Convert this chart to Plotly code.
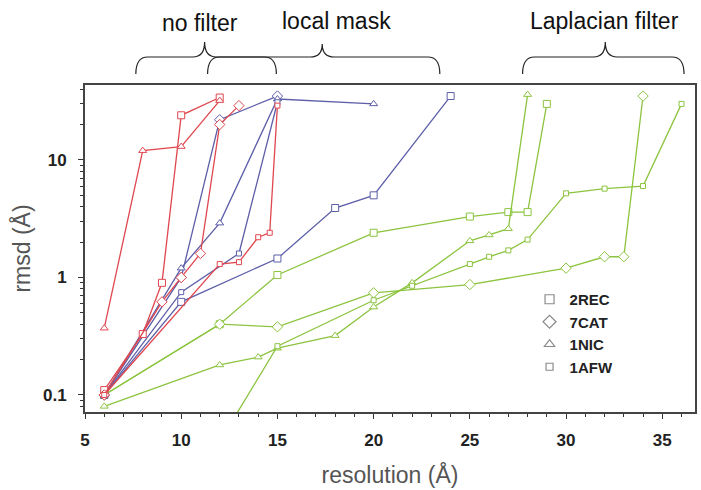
import plotly.graph_objects as go

# rmsd (Å) versus resolution (Å) for four test structures and three map treatments

# --- no filter (red) ---
nf_2rec_x = [6, 8, 9, 10, 12]
nf_2rec_y = [0.11, 0.33, 0.9, 24, 34]
nf_7cat_x = [6, 9, 10, 11, 12, 13]
nf_7cat_y = [0.1, 0.62, 1.0, 1.6, 20, 29]
nf_1nic_x = [6, 8, 10, 12]
nf_1nic_y = [0.37, 12, 13, 32]
nf_1afw_x = [6, 12, 13, 14, 14.6, 15]
nf_1afw_y = [0.1, 1.3, 1.35, 2.2, 2.4, 29]

# --- local mask (blue) ---
lm_2rec_x = [6, 10, 15, 18, 20, 24]
lm_2rec_y = [0.1, 0.62, 1.45, 3.9, 5.0, 35]
lm_7cat_x = [6, 10, 12, 15]
lm_7cat_y = [0.1, 1.0, 22, 35]
lm_1nic_x = [6, 10, 12, 15, 20]
lm_1nic_y = [0.1, 1.2, 2.9, 33, 30]
lm_1afw_x = [6, 10, 13, 15]
lm_1afw_y = [0.1, 0.75, 1.6, 31]

# --- Laplacian filter (green) ---
lp_2rec_x = [6, 12, 15, 20, 25, 27, 28, 29]
lp_2rec_y = [0.1, 0.4, 1.05, 2.4, 3.3, 3.6, 3.6, 30]
lp_7cat_x = [6, 12, 15, 20, 25, 30, 32, 33, 34]
lp_7cat_y = [0.1, 0.4, 0.38, 0.74, 0.87, 1.2, 1.5, 1.5, 35]
lp_1nic_x = [6, 12, 14, 15, 18, 20, 22, 25, 26, 27, 28]
lp_1nic_y = [0.08, 0.18, 0.21, 0.25, 0.32, 0.56, 0.9, 2.05, 2.3, 2.6, 36]
lp_1afw_x = [12, 15, 20, 22, 25, 26, 27, 28, 30, 32, 34, 36]
lp_1afw_y = [0.04, 0.26, 0.64, 0.85, 1.3, 1.5, 1.7, 2.1, 5.2, 5.7, 6.0, 30]

proteins = ["2REC", "7CAT", "1NIC", "1AFW"]
symbols = {"2REC": "square", "7CAT": "diamond", "1NIC": "triangle-up", "1AFW": "square"}
sizes = {"2REC": 7, "7CAT": 8, "1NIC": 7, "1AFW": 5}

RED = "#e0474f"
BLUE = "#5d5fa8"
GREEN = "#8cc43f"

series = [
    (nf_2rec_x, nf_2rec_y, "2REC", RED),
    (nf_7cat_x, nf_7cat_y, "7CAT", RED),
    (nf_1nic_x, nf_1nic_y, "1NIC", RED),
    (nf_1afw_x, nf_1afw_y, "1AFW", RED),
    (lm_2rec_x, lm_2rec_y, "2REC", BLUE),
    (lm_7cat_x, lm_7cat_y, "7CAT", BLUE),
    (lm_1nic_x, lm_1nic_y, "1NIC", BLUE),
    (lm_1afw_x, lm_1afw_y, "1AFW", BLUE),
    (lp_2rec_x, lp_2rec_y, "2REC", GREEN),
    (lp_7cat_x, lp_7cat_y, "7CAT", GREEN),
    (lp_1nic_x, lp_1nic_y, "1NIC", GREEN),
    (lp_1afw_x, lp_1afw_y, "1AFW", GREEN),
]

fig = go.Figure()

# green first so the red and blue curves sit on top
for xs, ys, prot, col in series[8:] + series[4:8] + series[:4]:
    fig.add_trace(go.Scatter(
        x=xs, y=ys, mode="lines+markers", showlegend=False, cliponaxis=True,
        line=dict(color=col, width=1.3),
        marker=dict(symbol=symbols[prot], size=sizes[prot], color="white",
                    line=dict(color=col, width=1)),
    ))

# legend entries: grey open markers only
for prot in proteins:
    fig.add_trace(go.Scatter(
        x=[None], y=[None], mode="markers", name=prot,
        marker=dict(symbol=symbols[prot], size=sizes[prot] + 2, color="white",
                    line=dict(color="#8a8a8a", width=1.2)),
    ))

# plot area in pixels: x 85..697, y 85..412
L, R, T, B = 85, 697, 85, 412
def px(xp):
    return (xp - L) / (R - L)
def py(yp):
    return (B - yp) / (B - T)

def brace(x0, x1, xc, y_end, y_mid, y_tip):
    r = 12
    return (f"M {px(x0)},{py(y_end)} Q {px(x0)},{py(y_mid)} {px(x0 + r)},{py(y_mid)} "
            f"L {px(xc - r)},{py(y_mid)} Q {px(xc)},{py(y_mid)} {px(xc)},{py(y_tip)} "
            f"Q {px(xc)},{py(y_mid)} {px(xc + r)},{py(y_mid)} "
            f"L {px(x1 - r)},{py(y_mid)} Q {px(x1)},{py(y_mid)} {px(x1)},{py(y_end)}")

shapes = [
    dict(type="path", xref="paper", yref="paper", path=brace(136, 277, 205, 74, 57, 42),
         line=dict(color="#222", width=1.2)),
    dict(type="path", xref="paper", yref="paper", path=brace(208, 441, 323, 74, 57, 44),
         line=dict(color="#222", width=1.2)),
    dict(type="path", xref="paper", yref="paper", path=brace(524, 686, 607, 74, 57, 42),
         line=dict(color="#222", width=1.2)),
]

ann_font = dict(size=23, color="#111")
annotations = [
    dict(text="no filter", x=px(200), y=py(23), xref="paper", yref="paper",
         xanchor="center", yanchor="middle", showarrow=False, font=ann_font),
    dict(text="local mask", x=px(337), y=py(21), xref="paper", yref="paper",
         xanchor="center", yanchor="middle", showarrow=False, font=ann_font),
    dict(text="Laplacian filter", x=px(606), y=py(21), xref="paper", yref="paper",
         xanchor="center", yanchor="middle", showarrow=False, font=ann_font),
]

y_minor = [0.08, 0.09, 0.2, 0.3, 0.4, 0.5, 0.6, 0.7, 0.8, 0.9,
           2, 3, 4, 5, 6, 7, 8, 9, 20, 30, 40]

fig.update_layout(
    width=701, height=490,
    margin=dict(l=L, r=701 - R, t=T, b=490 - B),
    paper_bgcolor="white", plot_bgcolor="white",
    font=dict(family="Liberation Sans, Arial, sans-serif", color="#222"),
    shapes=shapes, annotations=annotations,
    legend=dict(x=px(531), y=py(283), xanchor="left", yanchor="top",
                bgcolor="rgba(0,0,0,0)", itemwidth=30, tracegroupgap=0,
                font=dict(size=15, color="#222", weight="bold")),
    xaxis=dict(
        range=[5, 36.7], tickvals=[5, 10, 15, 20, 25, 30, 35],
        ticks="outside", ticklen=5, tickwidth=1.3, tickcolor="#333",
        showline=True, linecolor="#444", linewidth=2, mirror=True,
        showgrid=False, zeroline=False, ticklabelstandoff=7,
        tickfont=dict(size=17, weight="bold", color="#222"),
        minor=dict(dtick=1, ticks="outside", ticklen=3, tickcolor="#333", showgrid=False),
        title=dict(text="resolution (Å)", font=dict(size=23, color="#555"), standoff=17),
    ),
    yaxis=dict(
        type="log", range=[-1.145, 1.638],
        tickvals=[0.1, 1, 10], ticktext=["0.1", "1", "10"],
        ticks="outside", ticklen=5, tickwidth=1.3, tickcolor="#333",
        showline=True, linecolor="#444", linewidth=2, mirror=True,
        showgrid=False, zeroline=False, ticklabelstandoff=8,
        tickfont=dict(size=17, weight="bold", color="#222"),
        minor=dict(tickvals=y_minor, ticks="outside", ticklen=3, tickcolor="#333", showgrid=False),
        title=dict(text="rmsd (Å)", font=dict(size=23, color="#555"), standoff=6),
    ),
)

fig.write_html("out.html")
